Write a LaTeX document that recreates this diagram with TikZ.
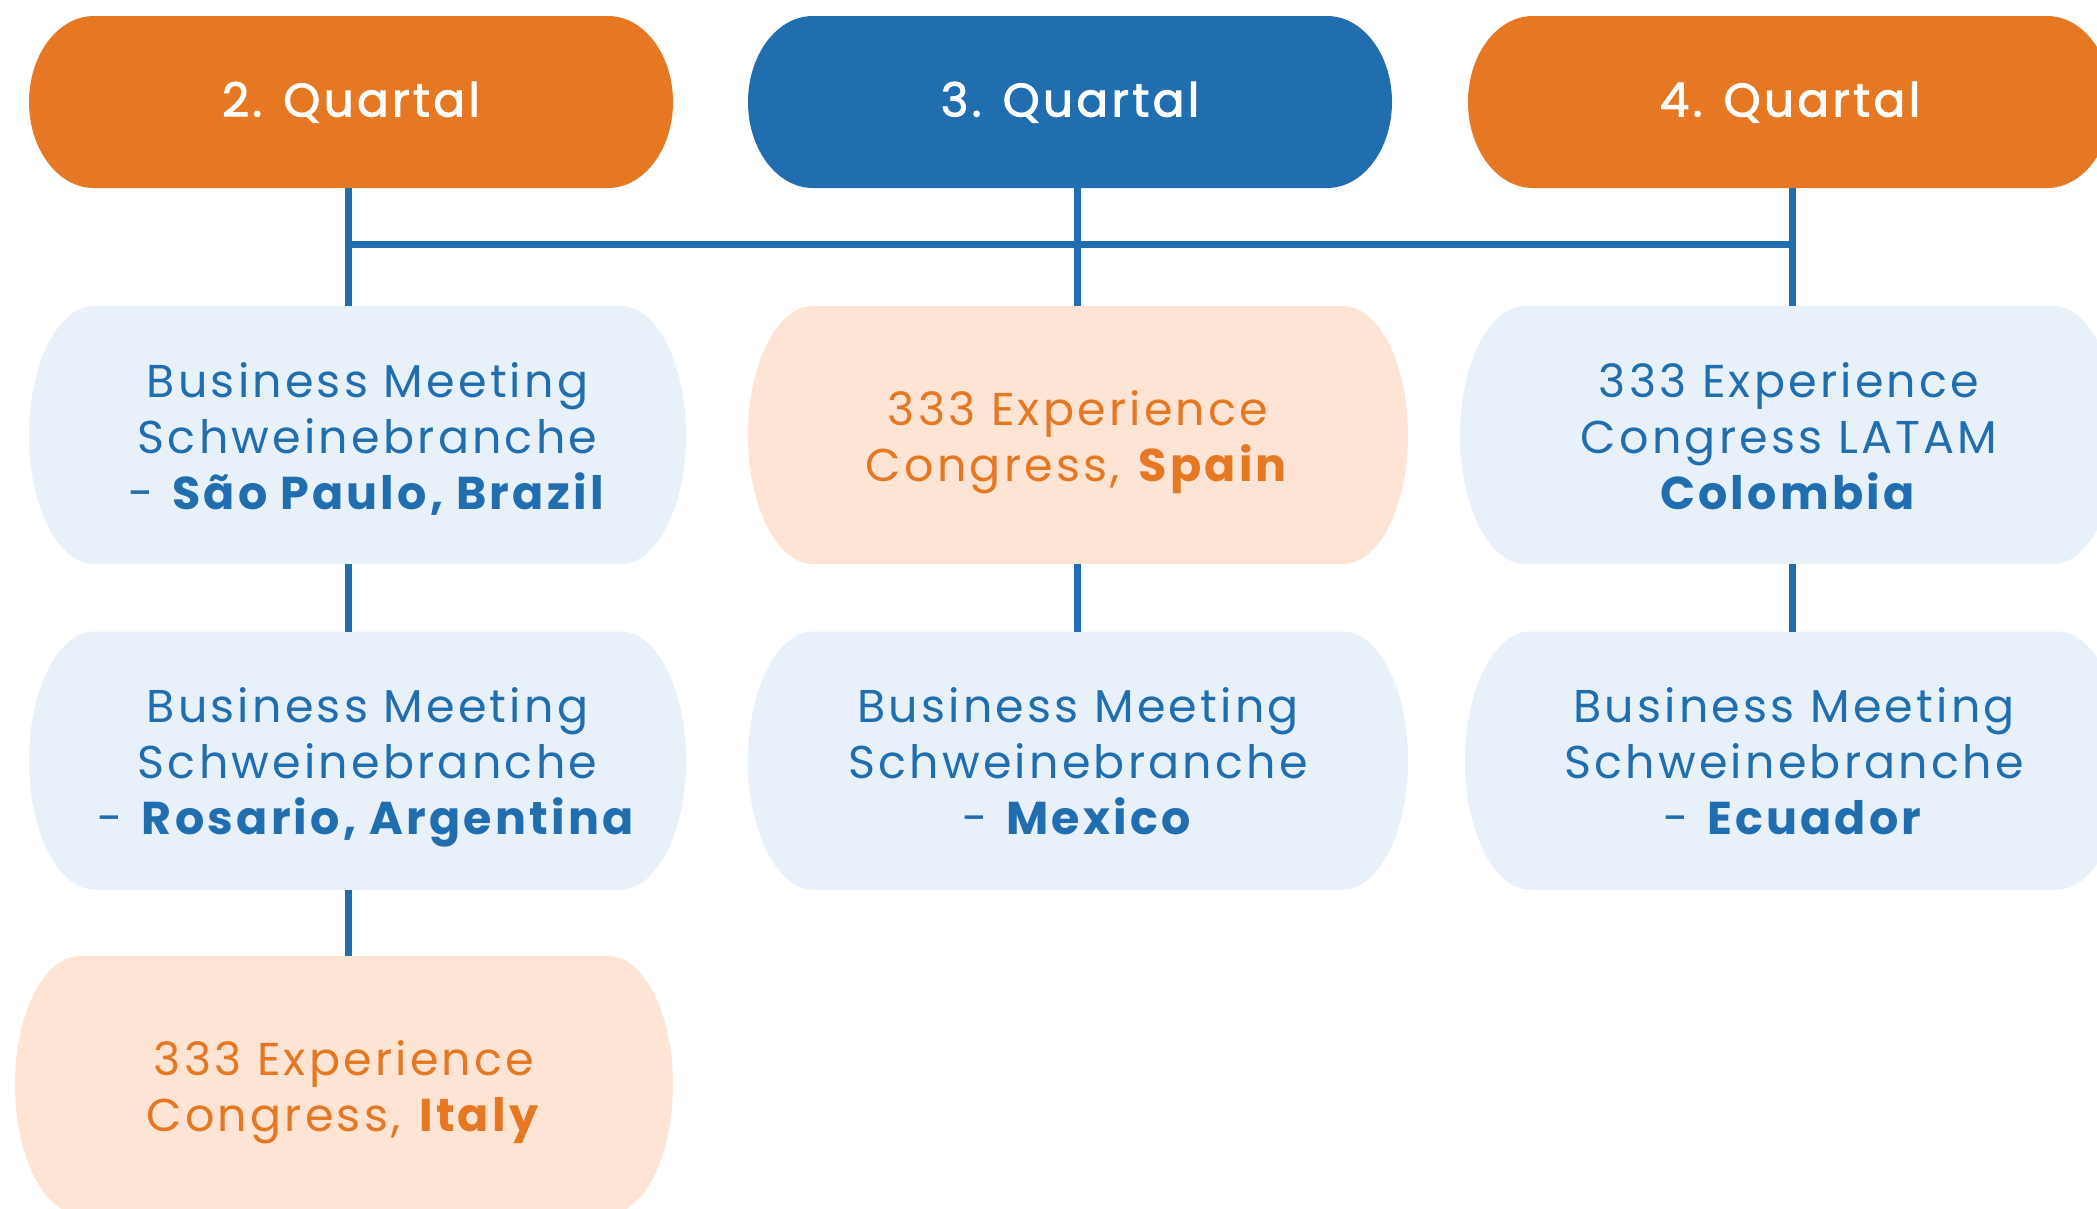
\documentclass[tikz,border=0pt]{standalone}
\usepackage{fontspec}
\setmainfont{Poppins}[LetterSpace=7]
\newfontfamily\titlefont{Poppins}[LetterSpace=7,FakeBold=2]
\usetikzlibrary{calc}
\definecolor{qorange}{HTML}{E77823}
\definecolor{qblue}{HTML}{206EAF}
\definecolor{lblue}{HTML}{E8F1F9}
\definecolor{lorange}{HTML}{FDE4D4}
\tikzset{
  pill/.style={rectangle, inner sep=0pt, outer sep=0pt, align=center,
    font=\fontsize{46}{56}\selectfont,
    path picture={
      \fill[#1] let \p1=(path picture bounding box.north west),
                    \p2=(path picture bounding box.south east),
                    \n1={(\y1-\y2)/2} in
        (\x1+65pt,\y1) -- (\x2-65pt,\y1)
        arc[start angle=90,end angle=-90,x radius=65pt,y radius=\n1]
        -- (\x1+65pt,\y2)
        arc[start angle=270,end angle=90,x radius=65pt,y radius=\n1] -- cycle;
    }},
  title/.style={pill=#1, text=white, minimum width=644pt, minimum height=172pt,
    font=\titlefont\fontsize{47}{56}\selectfont},
  card/.style={pill=#1, minimum height=258pt},
  link/.style={draw=qblue, line width=7pt}
}
\newcommand{\st}{\rule[-13.5pt]{0pt}{56pt}}
\newcommand{\sa}{\rule{0pt}{49pt}}
\newcommand{\sz}{\rule[-13pt]{0pt}{13pt}}
\newcommand{\sh}{\hspace*{20pt}}
\begin{document}
\begin{tikzpicture}[x=1pt,y=-1pt]
\useasboundingbox (0,0) rectangle (2097,1208);
% quarter headers
\node[title=qorange] (q2) at (351,102) {\st 2. Quartal};
\node[title=qblue]   (q3) at (1070,102) {\st 3. Quartal};
\node[title=qorange] (q4) at (1790,102) {\st 4. Quartal};
% row 2
\node[card=lblue, minimum width=657pt, text=qblue] (b21) at (357.5,435)
  {\sa\sh Business Meeting\\\sh Schweinebranche\\\sz\sh - \textbf{São Paulo, Brazil}};
\node[card=lorange, minimum width=660pt, text=qorange] (b22) at (1078,435)
  {\sa 333 Experience\\\sz Congress, \textbf{Spain}};
\node[card=lblue, minimum width=658pt, text=qblue] (b23) at (1789,435)
  {\sa 333 Experience\\Congress LATAM\\\sz\textbf{Colombia}};
% row 3
\node[card=lblue, minimum width=657pt, text=qblue] (b31) at (357.5,760.5)
  {\sa\sh Business Meeting\\\sh Schweinebranche\\\sz\sh - \textbf{Rosario, Argentina}};
\node[card=lblue, minimum width=660pt, text=qblue] (b32) at (1078,760.5)
  {\sa Business Meeting\\Schweinebranche\\\sz - \textbf{Mexico}};
\node[card=lblue, minimum width=658pt, text=qblue] (b33) at (1794,760.5)
  {\sa Business Meeting\\Schweinebranche\\\sz - \textbf{Ecuador}};
% row 4
\node[card=lorange, minimum width=658pt, text=qorange] (b41) at (344,1085)
  {\sa 333 Experience\\\sz Congress, \textbf{Italy}};
% connectors
\coordinate (c2) at (348,244);
\coordinate (c3) at (1077,244);
\coordinate (c4) at (1792,244);
\draw[link] (c2 |- q2.south) -- (c2 |- b21.north);
\draw[link] (c3 |- q3.south) -- (c3 |- b22.north);
\draw[link] (c4 |- q4.south) -- (c4 |- b23.north);
\draw[link] ([xshift=-3.5pt]c2) -- ([xshift=3.5pt]c4);
\draw[link] (c2 |- b21.south) -- (c2 |- b31.north);
\draw[link] (c3 |- b22.south) -- (c3 |- b32.north);
\draw[link] (c4 |- b23.south) -- (c4 |- b33.north);
\draw[link] (c2 |- b31.south) -- (c2 |- b41.north);
\end{tikzpicture}
\end{document}
